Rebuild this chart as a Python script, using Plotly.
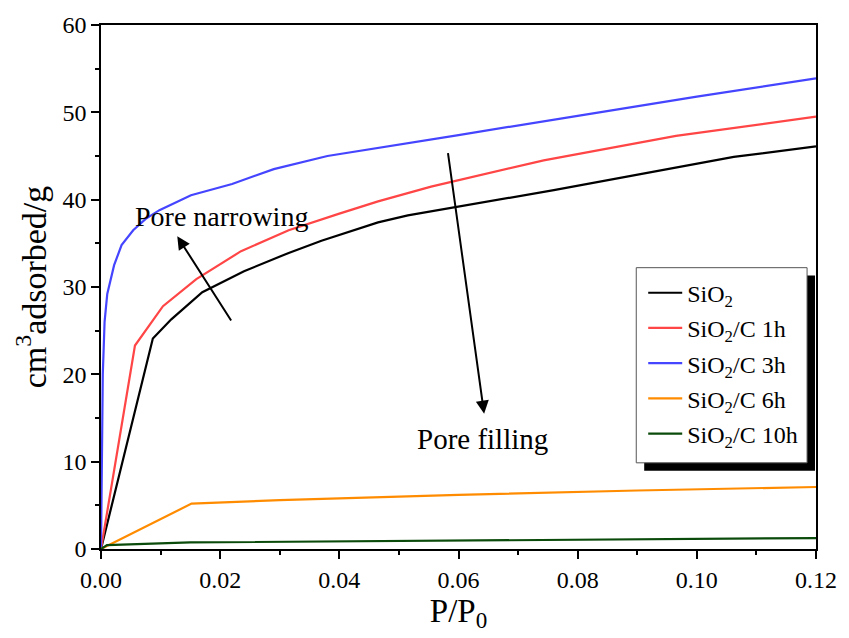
import plotly.graph_objects as go

# ---- data ----
x_sio2 = [0, 0.0087, 0.0118, 0.017, 0.024, 0.0315, 0.037, 0.0465, 0.0515, 0.076, 0.1062, 0.12]
y_sio2 = [0, 24.1, 26.3, 29.4, 31.8, 33.9, 35.3, 37.4, 38.2, 41.1, 44.9, 46.1]

x_1h = [0, 0.0057, 0.0104, 0.016, 0.0235, 0.0315, 0.04, 0.0465, 0.0554, 0.0743, 0.0965, 0.12]
y_1h = [0, 23.3, 27.8, 30.9, 34.1, 36.5, 38.4, 39.8, 41.5, 44.5, 47.3, 49.5]

x_3h = [0, 0.0001, 0.0003, 0.0006, 0.00105, 0.0022, 0.00345, 0.0054, 0.0075, 0.0098, 0.0151,
        0.022, 0.029, 0.038, 0.0465, 0.06, 0.08, 0.1, 0.12]
y_3h = [0, 10, 20, 26, 29.2, 32.5, 34.8, 36.5, 37.8, 38.8, 40.5,
        41.8, 43.5, 45.0, 45.9, 47.4, 49.6, 51.8, 53.9]

x_6h = [0, 0.0152, 0.03, 0.06, 0.09, 0.12]
y_6h = [0, 5.2, 5.6, 6.2, 6.7, 7.1]

x_10h = [0, 0.001, 0.015, 0.06, 0.12]
y_10h = [0, 0.45, 0.75, 1.0, 1.25]

series = [
    ("SiO<sub>2</sub>", x_sio2, y_sio2, "#000000"),
    ("SiO<sub>2</sub>/C 1h", x_1h, y_1h, "#FF4545"),
    ("SiO<sub>2</sub>/C 3h", x_3h, y_3h, "#4545FF"),
    ("SiO<sub>2</sub>/C 6h", x_6h, y_6h, "#FF8C00"),
    ("SiO<sub>2</sub>/C 10h", x_10h, y_10h, "#0A4A0A"),
]

FONT = "Liberation Serif, Times New Roman, serif"

fig = go.Figure()
for i, (name, xs, ys, col) in enumerate(series):
    fig.add_trace(go.Scatter(x=xs, y=ys, mode="lines", name=name,
                             legendgroup=str(i),
                             line=dict(color=col, width=2.2)))

# layout geometry (pixels)
W, H = 849, 638
L, R, T, B = 101, 28, 20, 89
PW, PH = W - L - R, H - T - B


def px(xp):
    return (xp - L) / PW


def py(yp):
    return (H - B - yp) / PH


shapes = [
    # legend shadow
    dict(type="rect", xref="paper", yref="paper", x0=px(648), x1=px(820), y0=py(470), y1=py(273),
         fillcolor="black", line=dict(width=0), layer="above"),
    # legend box
    dict(type="rect", xref="paper", yref="paper", x0=px(640), x1=px(812), y0=py(462), y1=py(265),
         fillcolor="white", line=dict(color="#555555", width=1), layer="above"),
]

annotations = [
    dict(x=0.0128, y=35.8, ax=0.022, ay=26.0, xref="x", yref="y", axref="x", ayref="y",
         showarrow=True, arrowhead=2, arrowsize=1.3, arrowwidth=2, arrowcolor="black", text=""),
    dict(x=0.0643, y=15.5, ax=0.0582, ay=45.5, xref="x", yref="y", axref="x", ayref="y",
         showarrow=True, arrowhead=2, arrowsize=1.3, arrowwidth=2, arrowcolor="black", text=""),
    dict(x=0.0202, y=38.1, xref="x", yref="y", text="Pore narrowing", showarrow=False,
         font=dict(family=FONT, size=28, color="black")),
    dict(x=0.064, y=12.6, xref="x", yref="y", text="Pore filling", showarrow=False,
         font=dict(family=FONT, size=29, color="black")),
]

fig.update_layout(
    width=W, height=H,
    margin=dict(l=L, r=R, t=T, b=B),
    paper_bgcolor="white", plot_bgcolor="white",
    font=dict(family=FONT, color="black", size=24),
    shapes=shapes,
    annotations=annotations,
    showlegend=True,
    legend=dict(x=px(647), y=py(268), xanchor="left", yanchor="top",
                bgcolor="rgba(0,0,0,0)", borderwidth=0,
                font=dict(family=FONT, size=24, color="black"),
                tracegroupgap=1, itemwidth=34),
    xaxis=dict(range=[0, 0.12], tickvals=[0, 0.02, 0.04, 0.06, 0.08, 0.1, 0.12],
               ticktext=["0.00", "0.02", "0.04", "0.06", "0.08", "0.10", "0.12"],
               ticks="outside", ticklen=8, tickwidth=1.5, tickcolor="black",
               minor=dict(dtick=0.01, ticks="outside", ticklen=4, tickwidth=1.5, tickcolor="black"),
               showline=True, linecolor="black", linewidth=1.5, mirror=True,
               showgrid=False, zeroline=False,
               title=dict(text="P/P<sub>0</sub>", font=dict(family=FONT, size=33), standoff=4),
               tickfont=dict(family=FONT, size=24)),
    yaxis=dict(range=[0, 60], dtick=10,
               ticks="outside", ticklen=8, tickwidth=1.5, tickcolor="black",
               minor=dict(dtick=5, ticks="outside", ticklen=4, tickwidth=1.5, tickcolor="black"),
               showline=True, linecolor="black", linewidth=1.5, mirror=True,
               showgrid=False, zeroline=False,
               title=dict(text="cm<sup>3</sup>adsorbed/g", font=dict(family=FONT, size=34), standoff=6),
               tickfont=dict(family=FONT, size=24)),
)

fig.write_html("out.html")
